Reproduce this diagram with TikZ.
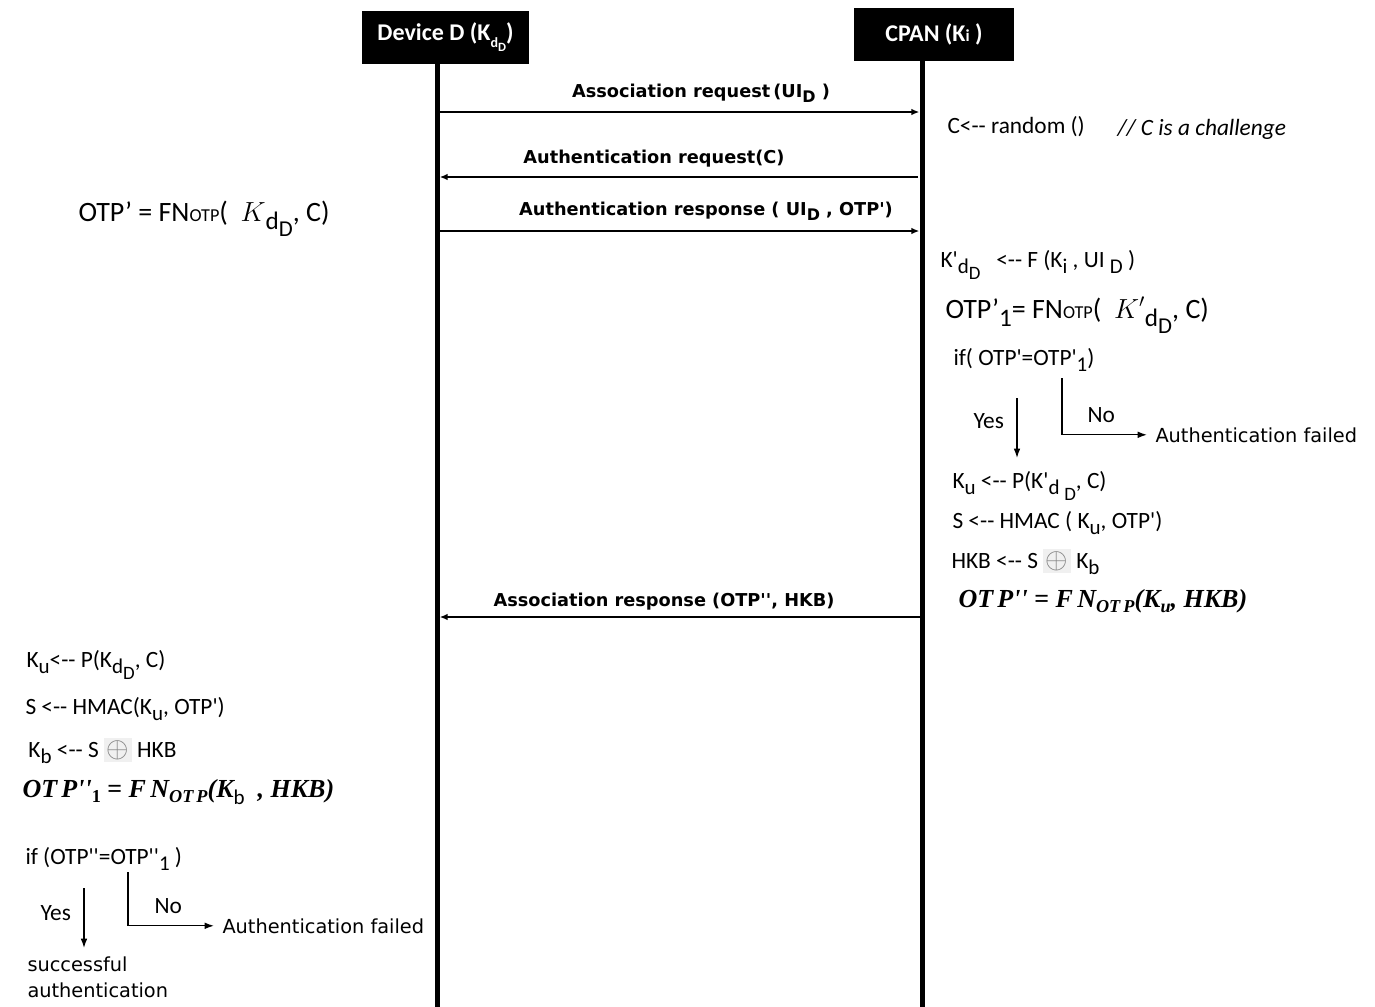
\documentclass[tikz,border=0pt]{standalone}
\usepackage{fontspec}
\setmainfont{Carlito}[Ligatures=TeXOff]
\newfontfamily\vfont{DejaVu Sans}
\newfontfamily\tfont{Liberation Serif}
\usetikzlibrary{arrows.meta}

\newcommand{\lowr}[1]{\raisebox{-0.6ex}{\scalebox{0.9}{#1}}}
\newcommand{\msub}[1]{\raisebox{-0.45ex}{\scalebox{0.7}{#1}}}
\newcommand{\otpsub}{\scalebox{0.65}{OTP}}
\newcommand{\xorbox}{{\setlength{\fboxsep}{2pt}\colorbox{black!6}{\textcolor{black!50}{\scalebox{1.25}{$\oplus$}}}}}

\tikzset{every picture/.style={line width=0.75pt}}
\tikzset{
  hdr/.style={fill=black, text=white, inner sep=0pt, minimum height=39.75pt,
    font=\bfseries\fontsize{18}{21}\selectfont},
  life/.style={line width=3.75pt},
  msg/.style={line width=1.5pt, -{Latex[length=6pt,width=5pt]}, shorten >=2pt},
  lbl/.style={font=\vfont\bfseries\fontsize{13.3}{15}\selectfont, inner sep=0pt, anchor=base},
  eqn/.style={font=\fontsize{17.5}{20}\selectfont, inner sep=0pt, anchor=base west},
  big/.style={font=\fontsize{21}{24}\selectfont, inner sep=0pt, anchor=base west},
  sym/.style={font=\tfont\bfseries\itshape\fontsize{19.5}{22}\selectfont, inner sep=0pt, anchor=base west},
  wide/.style={font=\vfont\fontsize{14.5}{19.5}\selectfont, inner sep=0pt, anchor=base west},
  flow/.style={line width=1pt, -{Latex[length=7pt,width=5pt]}}
}

\begin{document}
\begin{tikzpicture}[x=0.75pt,y=0.75pt,yscale=-1,xscale=1]
	\useasboundingbox (0,0) rectangle (1375,1007);

	%Header boxes
	\node[hdr, minimum width=125.25pt] (dev) at (445.5,37.5) {\raisebox{2pt}{Device D (K\lowr{\scalebox{0.65}{d\lowr{D}}})}};
	\node[hdr, minimum width=120pt] (cpan) at (934,34.5) {\raisebox{3pt}{CPAN (K\scalebox{0.7}{i} )}};

	%Lifelines
	\coordinate (dtop) at (437,64);
	\coordinate (dend) at (437,1007);
	\coordinate (ctop) at (922,61);
	\coordinate (cend) at (922,1007);
	\draw[life] (dtop) -- (dend);
	\draw[life] (ctop) -- (cend);

	%Messages
	\coordinate (m1d) at (437,112);
	\coordinate (m1c) at (922,112);
	\coordinate (m2d) at (437,177);
	\coordinate (m2c) at (918,177);
	\coordinate (m3d) at (437,231);
	\coordinate (m3c) at (922,231);
	\coordinate (m4d) at (437,617);
	\coordinate (m4c) at (922,617);
	\draw[msg] (m1d) -- (m1c);
	\draw[msg] (m2c) -- (m2d);
	\draw[msg] (m3d) -- (m3c);
	\draw[msg] (m4c) -- (m4d);
	\node[lbl] (m1) at (701,97) {Association request\,(UI\lowr{D} )};
	\node[lbl] (m2) at (654,163) {Authentication request(C)};
	\node[lbl] (m3) at (706,215) {Authentication response ( UI\lowr{D} , OTP')};
	\node[lbl] (m4) at (664,606) {Association response (OTP'', HKB)};

	%CPAN side
	\node[eqn] (rnd) at (947,133) {C<-- random ()};
	\node[eqn] (cmt) at (1117,135) {\itshape // C is a challenge};
	\node[eqn] (kdd) at (940,267) {K'\lowr{d\lowr{D}}\ \ \ <-- F (K\lowr{i}\ , UI\ \lowr{D} )};
	\node[big] (otp1) at (945,318) {OTP’\lowr{1}= FN\otpsub(\ \ $K'$\lowr{d\lowr{D}}, C)};
	\node[eqn] (rif) at (953,365) {if( OTP'=OTP'\lowr{1})};
	\node[eqn] (ryes) at (973,428) {Yes};
	\node[eqn] (rno) at (1087,422) {No};
	\node[wide] (rfail) at (1155,442) {Authentication failed};
	\node[eqn] (rku) at (952,488) {K\lowr{u} <-- P(K'\lowr{d\ \lowr{D}}, C)};
	\node[eqn] (rs) at (952,528) {S <-- HMAC ( K\lowr{u}, OTP')};
	\node[eqn] (rhkb) at (951,568) {HKB <-- S \xorbox\ K\lowr{b}};
	\node[sym] (rotp) at (958,607) {OT\,P'' {\upshape =} F\,N\msub{OT\,P}(K\msub{u}, HKB)};
	\coordinate (ry1) at (1017,398);
	\coordinate (ry2) at (1017,458);
	\coordinate (rn1) at (1062,378);
	\draw[flow] (ry1) -- (ry2);
	\draw[flow, shorten >=6pt] (rn1) |- (rfail.west);

	%Device side
	\node[big] (lotp) at (78,221) {OTP’ = FN\otpsub(\ \ $K$\lowr{d\lowr{D}}, C)};
	\node[eqn] (lku) at (26,667) {K\lowr{u}<-- P(K\lowr{d\lowr{D}}, C)};
	\node[eqn] (ls) at (25,714) {S <-- HMAC(K\lowr{u}, OTP')};
	\node[eqn] (lkb) at (28,757) {K\lowr{b} <-- S \xorbox\ HKB};
	\node[sym] (lotp1) at (22,797) {OT\,P''\msub{\upshape 1} {\upshape =} F\,N\msub{OT\,P}(K{\mdseries\upshape\lowr{\fontsize{17.5}{20}\selectfont\rmfamily b}}\ \ , HKB)};
	\node[eqn] (lif) at (25,864) {if (OTP''=OTP''\lowr{1} )};
	\node[eqn] (lyes) at (40,920) {Yes};
	\node[eqn] (lno) at (154,913) {No};
	\node[wide] (lfail) at (222,933) {Authentication failed};
	\node[wide] (lok1) at (27,971) {successful};
	\node[wide] (lok2) at (27,997) {authentication};
	\coordinate (ly1) at (84,888);
	\coordinate (ly2) at (84,948);
	\coordinate (ln1) at (128,872);
	\draw[flow] (ly1) -- (ly2);
	\draw[flow, shorten >=6pt] (ln1) |- (lfail.west);

\end{tikzpicture}
\end{document}
